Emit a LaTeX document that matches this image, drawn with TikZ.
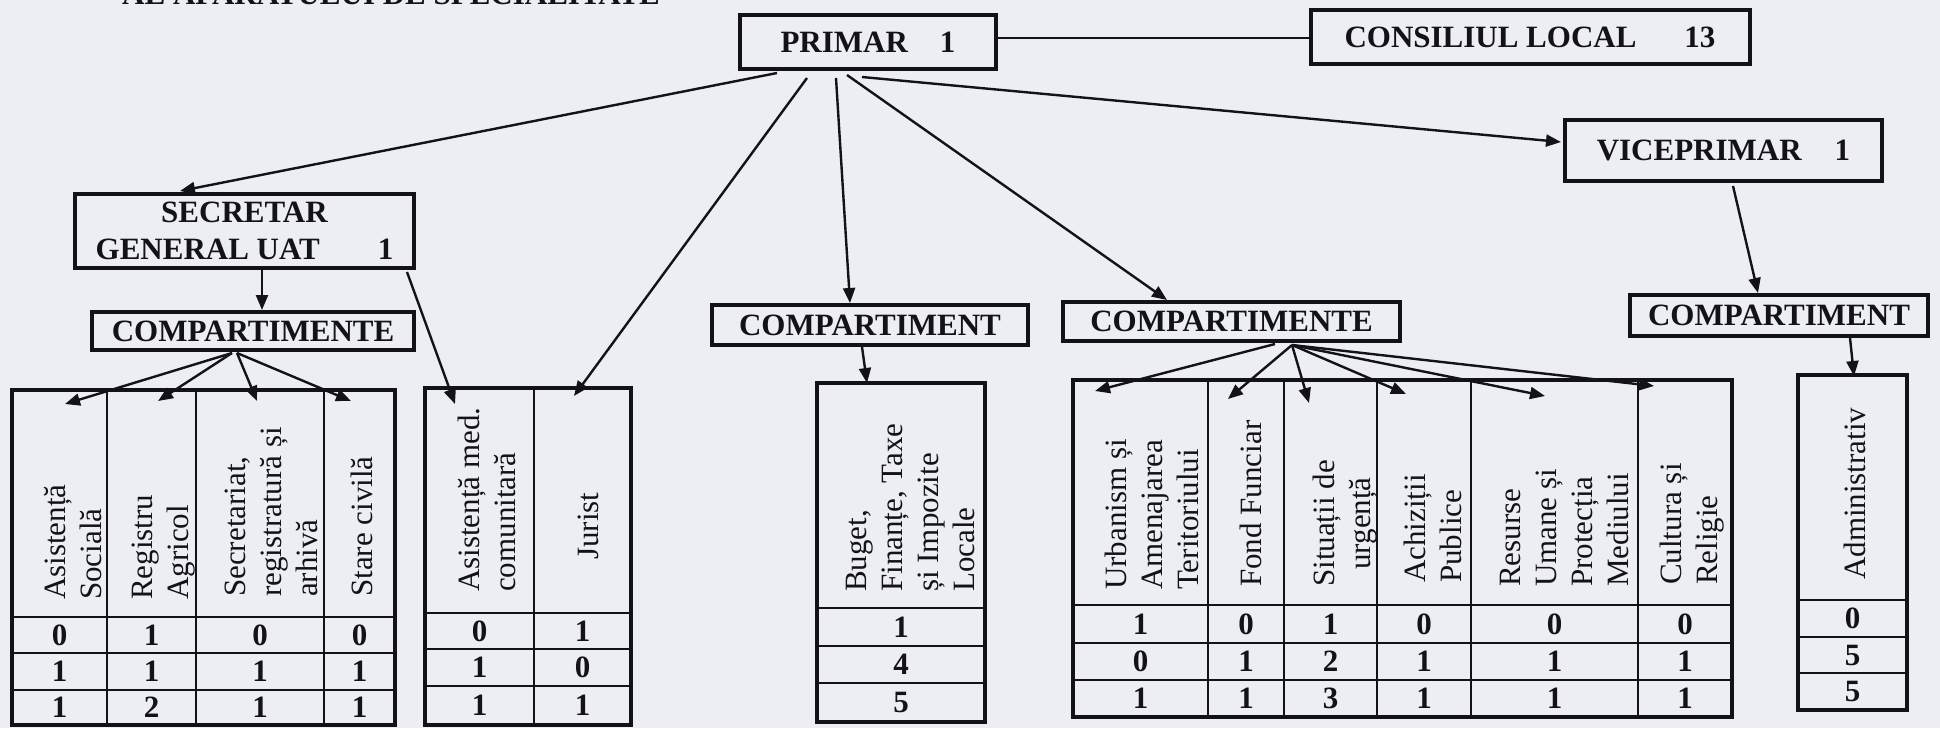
\documentclass[tikz,border=0pt]{standalone}
\usepackage{fontspec}
\setmainfont{Liberation Serif}
\usetikzlibrary{arrows.meta,calc}
\definecolor{paper}{RGB}{237,237,244}
\definecolor{ink}{RGB}{18,18,24}
\begin{document}
\begin{tikzpicture}[x=1pt,y=-1pt,
  box/.style={draw=ink, line width=4pt, inner sep=0pt, text=ink,
    font=\fontsize{31}{37}\selectfont\bfseries},
  conn/.style={draw=ink, line width=2.4pt, -{Triangle[length=15pt,width=12pt]}},
  plainline/.style={draw=ink, line width=2.4pt},
  hdr/.style={rotate=90, anchor=west, inner sep=0pt, align=left, text=ink,
    font=\fontsize{31}{36}\selectfont},
  num/.style={inner sep=0pt, text=ink, font=\fontsize{31}{36}\selectfont\bfseries},
  outerframe/.style={draw=ink, line width=4pt},
  innerline/.style={draw=ink, line width=2.2pt},
]
\fill[paper] (0,0) rectangle (1940,728);
\useasboundingbox (0,0) rectangle (1940,728);

% cut-off heading at the top edge
\node[anchor=base west, inner sep=0pt, text=ink, font=\fontsize{31}{36}\selectfont\bfseries] (title) at (122,5) {AL APARATULUI DE SPECIALITATE};

% ---------- boxes ----------
\node[box, minimum width=256pt, minimum height=54pt] (primar) at (868,42) {PRIMAR\hspace{32pt}1};
\node[box, minimum width=439pt, minimum height=54pt] (consiliul) at (1530,37) {CONSILIUL LOCAL\hspace{48pt}13\hspace{18pt}};
\node[box, minimum width=317pt, minimum height=61pt] (viceprimar) at (1723.5,150.5) {VICEPRIMAR\hspace{33pt}1};
\node[box, minimum width=339pt, minimum height=74pt, align=center] (secretar) at (244.5,231) {SECRETAR\\GENERAL UAT\hspace{58pt}1};
\node[box, minimum width=322pt, minimum height=38pt] (compL) at (253,331) {COMPARTIMENTE};
\node[box, minimum width=316pt, minimum height=40pt] (compM) at (870,325) {COMPARTIMENT};
\node[box, minimum width=337pt, minimum height=39pt] (compR) at (1231.5,321.5) {COMPARTIMENTE\hspace{14pt}};
\node[box, minimum width=298pt, minimum height=41pt] (compV) at (1779,315.5) {COMPARTIMENT};

% ---------- table 1 ----------
\foreach \x in {107,196,324} \draw[innerline] (\x,390) -- (\x,725);
\foreach \y in {617,653,690} \draw[innerline] (12,\y) -- (395,\y);
\draw[outerframe] (12,390) rectangle (395,725);
\node[hdr] (a1) at (73,600) {Asistență\\Socială};
\node[hdr] (a2) at (164,600) {Registru\\Agricol};
\node[hdr] (a3) at (271,597) {Secretariat,\\registratură și\\arhivă};
\node[hdr] (a4) at (362,597) {Stare civilă};
\foreach \x/\a/\b/\c [count=\k] in {59.5/0/1/1, 151.5/1/1/2, 260/0/1/1, 359.5/0/1/1} {
  \node[num] (ta-\k-1) at (\x,635) {\a};
  \node[num] (ta-\k-2) at (\x,671.5) {\b};
  \node[num] (ta-\k-3) at (\x,707.5) {\c};
}

% ---------- table 2 ----------
\draw[innerline] (534,388) -- (534,725);
\foreach \y in {613,649,686} \draw[innerline] (425,\y) -- (631,\y);
\draw[outerframe] (425,388) rectangle (631,725);
\node[hdr] (b1) at (487,592) {Asistență med.\\comunitară};
\node[hdr] (b2) at (588,560) {Jurist};
\foreach \x/\a/\b/\c [count=\k] in {479.5/0/1/1, 582.5/1/0/1} {
  \node[num] (tb-\k-1) at (\x,631) {\a};
  \node[num] (tb-\k-2) at (\x,667.5) {\b};
  \node[num] (tb-\k-3) at (\x,705.5) {\c};
}

% ---------- table 3 ----------
\foreach \y in {608,646,683} \draw[innerline] (817,\y) -- (985,\y);
\draw[outerframe] (817,383) rectangle (985,722);
\node[hdr] (c1) at (910,592) {Buget,\\Finanțe, Taxe\\și Impozite\\Locale};
\node[num] (tc-1) at (901,627) {1};
\node[num] (tc-2) at (901,664.5) {4};
\node[num] (tc-3) at (901,702.5) {5};

% ---------- table 4 ----------
\foreach \x in {1208,1284,1377,1471,1638} \draw[innerline] (\x,380) -- (\x,717);
\foreach \y in {605,643,680} \draw[innerline] (1073,\y) -- (1732,\y);
\draw[outerframe] (1073,380) rectangle (1732,717);
\node[hdr] (d1) at (1152,590) {Urbanism și\\Amenajarea\\Teritoriului};
\node[hdr] (d2) at (1251,587) {Fond Funciar};
\node[hdr, align=center] (d3) at (1345,587) {Situații de\\urgență};
\node[hdr] (d4) at (1433,583) {Achiziții\\Publice};
\node[hdr] (d5) at (1564,587) {Resurse\\Umane și\\Protecția\\Mediului};
\node[hdr] (d6) at (1692,585) {Cultura și\\Religie};
\foreach \x/\a/\b/\c [count=\k] in {1140.5/1/0/1, 1246/0/1/1, 1330.5/1/2/3, 1424/0/1/1, 1554.5/0/1/1, 1685/0/1/1} {
  \node[num] (td-\k-1) at (\x,624) {\a};
  \node[num] (td-\k-2) at (\x,661.5) {\b};
  \node[num] (td-\k-3) at (\x,698.5) {\c};
}

% ---------- table 5 ----------
\foreach \y in {600,637,673} \draw[innerline] (1798,\y) -- (1907,\y);
\draw[outerframe] (1798,375) rectangle (1907,710);
\node[hdr] (e1) at (1855,580) {Administrativ};
\node[num] (te-1) at (1852.5,618.5) {0};
\node[num] (te-2) at (1852.5,655) {5};
\node[num] (te-3) at (1852.5,691.5) {5};

% ---------- connector end points ----------
\coordinate (pS) at (777,73);
\coordinate (pJ) at (807,78);
\coordinate (pM) at (836,78);
\coordinate (pR) at (847,75);
\coordinate (pV) at (862,77);
\coordinate (secIn) at (180,191);
\coordinate (jurIn) at (574,396);
\coordinate (compMIn) at (850,303);
\coordinate (compRIn) at (1167,300);
\coordinate (viceIn) at (1561,142);
\coordinate (sDown) at (262,270);
\coordinate (compLIn) at (262,310);
\coordinate (sSide) at (407,272);
\coordinate (amedIn) at (455,404);
\coordinate (fanL1) at (232,353);
\coordinate (fanL2) at (237,353);
\coordinate (a1In) at (65,404);
\coordinate (a2In) at (158,401);
\coordinate (a3In) at (257,401);
\coordinate (a4In) at (351,401);
\coordinate (mDown) at (862,347);
\coordinate (bugetIn) at (867,383);
\coordinate (fanR1) at (1275,344);
\coordinate (fanR2) at (1292,345);
\coordinate (d1In) at (1095,391);
\coordinate (d2In) at (1228,399);
\coordinate (d3In) at (1309,403);
\coordinate (d4In) at (1406,394);
\coordinate (d5In) at (1545,396);
\coordinate (d6In) at (1654,386);
\coordinate (vDown) at (1733,186);
\coordinate (compVIn) at (1758,293);
\coordinate (cvDown) at (1850,338);
\coordinate (admIn) at (1854,376);

% ---------- connectors ----------
\draw[plainline] (primar.east |- 0,38) -- (consiliul.west |- 0,38);
\draw[conn] (pS) -- (secIn);
\draw[conn] (pJ) -- (jurIn);
\draw[conn] (pM) -- (compMIn);
\draw[conn] (pR) -- (compRIn);
\draw[conn] (pV) -- (viceIn);
\draw[conn] (sDown) -- (compLIn);
\draw[conn] (sSide) -- (amedIn);
\draw[conn] (fanL1) -- (a1In);
\draw[conn] (fanL1) -- (a2In);
\draw[conn] (fanL2) -- (a3In);
\draw[conn] (fanL2) -- (a4In);
\draw[conn] (mDown) -- (bugetIn);
\draw[conn] (fanR1) -- (d1In);
\draw[conn] (fanR2) -- (d2In);
\draw[conn] (fanR2) -- (d3In);
\draw[conn] (fanR2) -- (d4In);
\draw[conn] (fanR2) -- (d5In);
\draw[conn] (fanR2) -- (d6In);
\draw[conn] (vDown) -- (compVIn);
\draw[conn] (cvDown) -- (admIn);
\end{tikzpicture}
\end{document}
